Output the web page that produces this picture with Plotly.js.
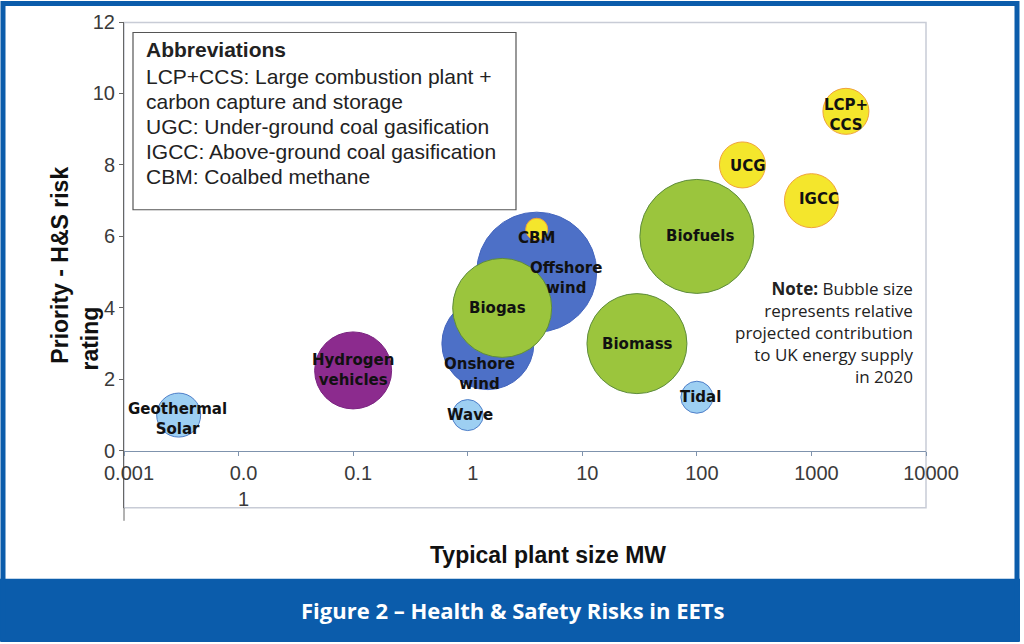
<!DOCTYPE html>
<html>
<head>
<meta charset="utf-8">
<script src="https://cdn.plot.ly/plotly-3.0.1.min.js"></script>
<style>html,body{margin:0;padding:0;background:#fff;}#chart{width:1024px;height:644px;}</style>
</head>
<body>
<div id="chart"></div>
<script>
// ---- data ----
const techLabels = ['Geothermal<br>Solar','Hydrogen<br>vehicles','Offshore<br>wind','Onshore<br>wind','Biogas','CBM','Wave','Biomass','Tidal','Biofuels','UCG','IGCC','LCP+<br>CCS'];
const plantSizeMW = [0.003, 0.1, 4, 1.5, 2, 4, 1, 30, 100, 100, 250, 1000, 2000];
const riskRating = [1, 2.25, 5, 3, 4, 6.2, 1, 3, 1.5, 6, 8, 7, 9.5];
const relContribution = [44, 77, 120, 92, 99, 22, 31, 100, 32, 114, 46, 54, 46];
const techGroup = ['minor','hydrogen','wind','wind','bio','coal','minor','bio','minor','bio','coal','coal','coal'];
const xTickVals = [0.001, 0.01, 0.1, 1, 10, 100, 1000, 10000];
const xTickText = ['0.001','0.0<br>1','0.1','1','10','100','1000','10000'];
const yTickVals = [0, 2, 4, 6, 8, 10, 12];
const xTitle = 'Typical plant size MW';
const yTitleLines = ['Priority - H&S risk', 'rating'];
const abbrevLines = ['<b>Abbreviations</b>', 'LCP+CCS: Large combustion plant +', 'carbon capture and storage', 'UGC: Under-ground coal gasification', 'IGCC: Above-ground coal gasification', 'CBM: Coalbed methane'];
const noteText = '<b>Note:</b> Bubble size<br>represents relative<br>projected contribution<br>to UK energy supply<br>in 2020';
const captionText = 'Figure 2 – Health &amp; Safety Risks in EETs';

// ---- styles ----
const groupFill = {minor:'#9DCFF2', hydrogen:'#8C2B8E', wind:'#4D70C7', bio:'#9BC53D', coal:'#F4E62C'};
const groupLine = {minor:'#4F7FC9', hydrogen:'#7A2380', wind:'#4466BE', bio:'#5E8C3C', coal:'#F0A23A'};
// label offsets in px (dx right, dy down)
const labelOffset = [[-1,4],[0,0],[29,6],[-8,30],[-5,0],[0,9],[2,0],[1,0],[4,0],[3,0],[6,1],[8,-2],[0,4]];
const abbrevLineY = [49, 76, 101, 126, 151, 176];
const yTitlePos = [[60, 265.5], [90, 338.5]];

const W = 1024, H = 644;
const M = {l:124, r:98, t:21.5, b:135.8};
const PW = W - M.l - M.r, PH = H - M.t - M.b;
const PX = px => (px - M.l) / PW;
const PY = py => (H - M.b - py) / PH;

const arial = 'Liberation Sans, Arial, sans-serif';
const frutiger = 'Open Sans, Noto Sans, sans-serif';
const blue = '#0B5CAB';

const trace = {
  type: 'scatter',
  mode: 'markers',
  x: plantSizeMW,
  y: riskRating,
  hoverinfo: 'skip',
  marker: {
    size: relContribution,
    sizemode: 'diameter',
    sizeref: 1,
    opacity: 1,
    color: techGroup.map(g => groupFill[g]),
    line: {width: 1, color: techGroup.map(g => groupLine[g])}
  },
  showlegend: false
};

const annotations = techLabels.map((t, i) => ({
  xref: 'x', yref: 'y',
  x: Math.log10(plantSizeMW[i]), y: riskRating[i],
  text: t, showarrow: false,
  xshift: labelOffset[i][0], yshift: -labelOffset[i][1],
  font: {family: 'DejaVu Sans, sans-serif', size: 15, color: '#111', weight: 'bold'}
}));

abbrevLines.forEach((t, i) => annotations.push({
  xref: 'paper', yref: 'paper', x: PX(144), y: PY(abbrevLineY[i]), xanchor: 'left', yanchor: 'middle',
  showarrow: false, text: t,
  font: {family: arial, size: 21, color: '#222'}
}));
annotations.push({
  xref: 'paper', yref: 'paper', x: PX(915), y: PY(275), xanchor: 'right', yanchor: 'top', align: 'right',
  showarrow: false, text: noteText,
  font: {family: frutiger, size: 17, color: '#222'}
});
// axis titles
yTitleLines.forEach((t, i) => annotations.push({
  xref: 'paper', yref: 'paper', x: PX(yTitlePos[i][0]), y: PY(yTitlePos[i][1]), xanchor: 'center', yanchor: 'middle',
  textangle: -90, showarrow: false, text: t,
  font: {family: arial, size: 23, color: '#111', weight: 'bold'}
}));
annotations.push({
  xref: 'paper', yref: 'paper', x: PX(548), y: PY(555), xanchor: 'center', yanchor: 'middle',
  showarrow: false, text: xTitle,
  font: {family: arial, size: 23, color: '#111', weight: 'bold'}
});
annotations.push({
  xref: 'paper', yref: 'paper', x: PX(513), y: PY(610), xanchor: 'center', yanchor: 'middle',
  showarrow: false, text: '<b>' + captionText + '</b>',
  font: {family: frutiger, size: 22, color: '#ffffff'}
});

const shapes = [
  {type:'rect', xref:'paper', yref:'paper', x0:PX(0), x1:PX(1020), y0:PY(579), y1:PY(642), fillcolor:blue, line:{width:0}, layer:'below'},
  {type:'rect', xref:'paper', yref:'paper', x0:PX(3), x1:PX(1017), y0:PY(3), y1:PY(640), line:{color:blue, width:5}, layer:'below'},
  {type:'rect', xref:'paper', yref:'paper', x0:PX(124), x1:PX(926), y0:PY(22), y1:PY(508), line:{color:'#c8ccd6', width:1.5}, layer:'below'},
  {type:'line', xref:'paper', yref:'paper', x0:PX(124), x1:PX(124), y0:PY(508), y1:PY(521), line:{color:'#666', width:1}},
  {type:'rect', xref:'paper', yref:'paper', x0:PX(133), x1:PX(516), y0:PY(32), y1:PY(209.5), fillcolor:'#ffffff', line:{color:'#555', width:1.2}}
];

const layout = {
  width: W, height: H,
  margin: M,
  paper_bgcolor: '#ffffff', plot_bgcolor: '#ffffff',
  showlegend: false,
  xaxis: {
    type: 'log', range: [-3, 4],
    anchor: 'free', position: 1.6 / 13.6,
    showgrid: false, zeroline: false,
    showline: true, linecolor: '#7f93ad', linewidth: 1,
    ticks: 'outside', ticklen: 4, tickcolor: '#7f93ad',
    tickmode: 'array', tickvals: xTickVals, ticktext: xTickText,
    ticklabelshift: 5,
    tickfont: {family: arial, size: 20, color: '#3a3a3a'},
    title: {text: ''}
  },
  yaxis: {
    range: [-1.6, 12],
    showgrid: false, zeroline: false,
    showline: true, linecolor: '#666', linewidth: 1,
    ticks: 'outside', ticklen: 4, tickcolor: '#666',
    tickmode: 'array', tickvals: yTickVals,
    tickfont: {family: arial, size: 20, color: '#3a3a3a'},
    title: {text: ''}
  },
  shapes: shapes,
  annotations: annotations
};

Plotly.newPlot('chart', [trace], layout, {staticPlot: true, displayModeBar: false});
</script>
</body>
</html>
